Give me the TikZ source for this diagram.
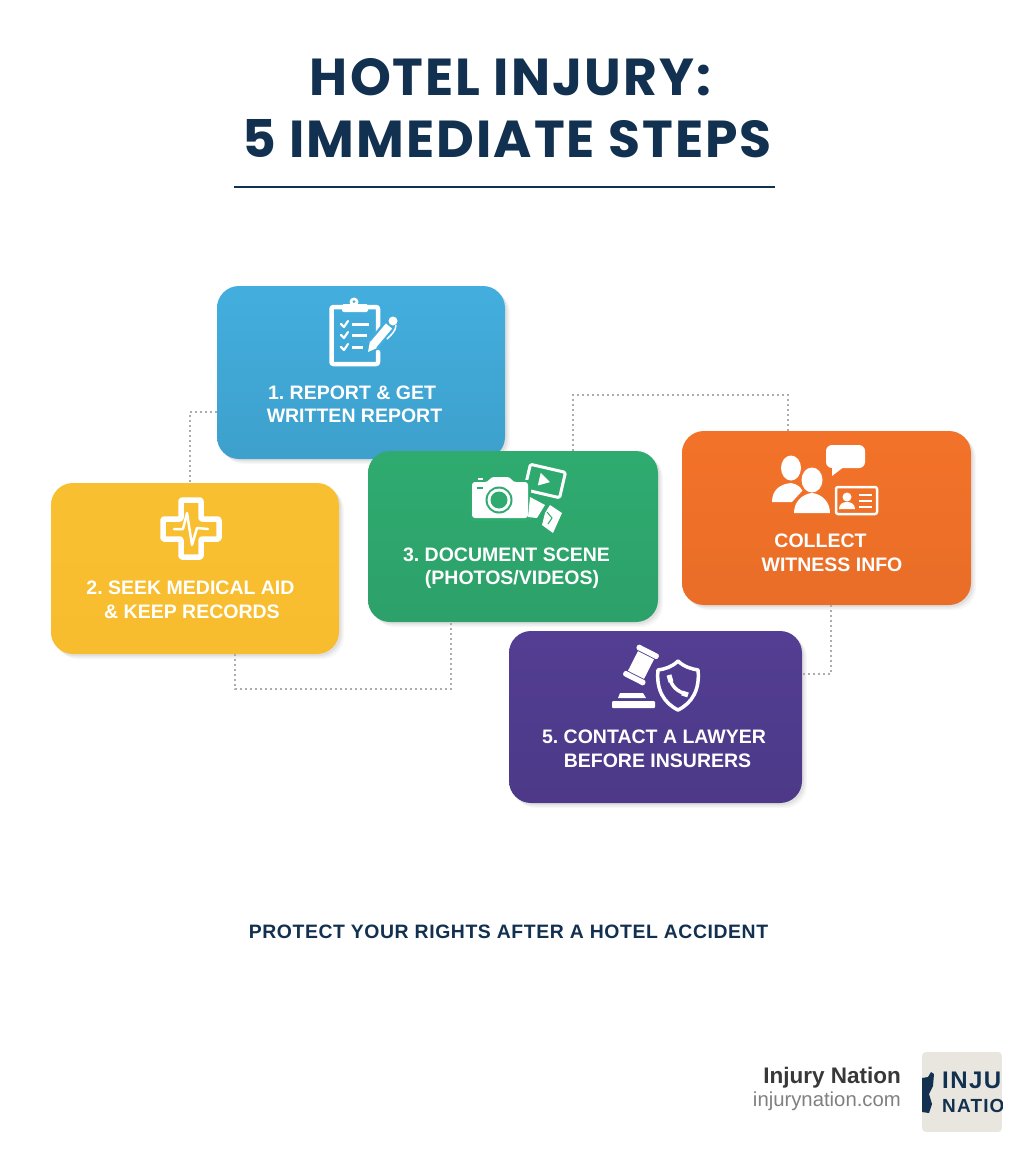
\documentclass[tikz,border=0pt]{standalone}
\usepackage{fontspec}
\setmainfont{Liberation Sans}
\newfontfamily\titlefont{Poppins}[LetterSpace=4]
\newfontfamily\tagfont{Liberation Sans}[LetterSpace=3]
\newfontfamily\logofont{Liberation Sans}[LetterSpace=6]
\usetikzlibrary{shadows}
\definecolor{navy}{HTML}{12304F}
\definecolor{bluebox}{HTML}{43AEDE}
\definecolor{yellowbox}{HTML}{F8C031}
\definecolor{greenbox}{HTML}{2FAB70}
\definecolor{orangebox}{HTML}{F37229}
\definecolor{purplebox}{HTML}{533E93}
\definecolor{logobox}{HTML}{E8E6DF}
\tikzset{
  card/.style={rectangle, rounded corners=22pt, inner sep=0pt, outer sep=0pt,
    drop shadow={shadow xshift=5pt, shadow yshift=-5pt, opacity=.03, fill=black},
    drop shadow={shadow xshift=3.5pt, shadow yshift=-3.5pt, opacity=.04, fill=black},
    drop shadow={shadow xshift=2pt, shadow yshift=-2pt, opacity=.05, fill=black}},
  line/.style={text=white, font=\frenchspacing\bfseries\fontsize{19.5}{24}\selectfont, inner sep=0pt},
  link/.style={draw=gray!65, line width=1.5pt, dash pattern=on 2pt off 3pt},
  icon/.style={draw=white, line width=3pt, line join=round, line cap=round}
}
\begin{document}
\begin{tikzpicture}[x=1pt, y=-1pt]
    \useasboundingbox [fill=white] (0,0) rectangle (1024,1154);
    % title
    \node(T1) at (510.5,77) [text=navy, font=\titlefont\bfseries\fontsize{52}{60}\selectfont] {HOTEL INJURY:};
    \node(T2) at (507,139) [text=navy, font=\titlefont\bfseries\fontsize{52}{60}\selectfont] {5 IMMEDIATE STEPS};
    \coordinate(TL) at (234,187);
    \coordinate(TR) at (775,187);
    \draw [navy, line width=2pt] (TL) -- (TR);
    % cards
    \node(R) at (361,372.5) [card, minimum width=288pt, minimum height=173pt, top color=bluebox, bottom color=bluebox!92!black] {};
    \node(M) at (195,568.5) [card, minimum width=288pt, minimum height=171pt, top color=yellowbox, bottom color=yellowbox!95!orange] {};
    \node(D) at (513,536.5) [card, minimum width=290pt, minimum height=171pt, top color=greenbox, bottom color=greenbox!94!black] {};
    \node(W) at (826.5,518) [card, minimum width=289pt, minimum height=174pt, top color=orangebox, bottom color=orangebox!96!black] {};
    \node(L) at (655.5,717) [card, minimum width=293pt, minimum height=172pt, top color=purplebox, bottom color=purplebox!92!black] {};
    % dotted links
    \draw [link] (R.west |- 0,412) -| (M.north -| 190,0);
    \draw [link] (M.south -| 235,0) |- (0,689 -| 451,0) -- (D.south -| 451,0);
    \draw [link] (D.north -| 573,0) |- (0,395 -| 788,0) -- (W.north -| 788,0);
    \draw [link] (W.south -| 831,0) |- (L.east |- 0,674);
    % card texts
    \node(R1) at (352,393) [line] {1. REPORT \& GET};
    \node(R2) at (354.5,416) [line] {WRITTEN REPORT};
    \node(M1) at (190.5,588) [line] {2. SEEK MEDICAL AID};
    \node(M2) at (192,612) [line] {\& KEEP RECORDS};
    \node(D1) at (506.5,555) [line] {3. DOCUMENT SCENE};
    \node(D2) at (512,579) [line] {(PHOTOS/VIDEOS)};
    \node(W1) at (820.5,541) [line] {COLLECT};
    \node(W2) at (832,565) [line] {WITNESS INFO};
    \node(L1) at (654,737) [line] {5. CONTACT A LAWYER};
    \node(L2) at (657.5,761) [line] {BEFORE INSURERS};
    % clipboard
    \draw [icon, line width=4.5pt, rounded corners=2pt] (378,340) -- (378,307) -- (331.5,307) -- (331.5,364) -- (378,364) -- (378,352);
    \fill [white, rounded corners=1.5pt] (342,304) rectangle (368,312);
    \fill [white] (354,302) circle (4.5pt);
    \fill [bluebox] (354,301.5) circle (1.5pt);
    \foreach \yy/\xx in {324/369, 335/367, 347/363} {
      \draw [icon, line width=3pt, line cap=butt] (352,\yy) -- (\xx,\yy);
      \draw [icon, line width=2.2pt] (341,\yy) -- (344,\yy+3) -- (348,\yy-3);
    }
    \draw [bluebox, line width=13pt] (373,345) -- (389,326);
    \draw [white, line width=8pt] (373,345) -- (389,326);
    \fill [white] (368,352) -- (370,341) -- (377,348) -- cycle;
    \fill [white] (393,321) circle (4.5pt);
    \draw [white, line width=1.5pt] (396,325) .. controls (396,331) and (391,335) .. (387,339);
    % medical cross
    \draw [icon, line width=5.5pt, rounded corners=1pt] (181,500) -- (201,500) -- (201,519) -- (219,519) -- (219,539) -- (201,539) -- (201,557) -- (181,557) -- (181,539) -- (163,539) -- (163,519) -- (181,519) -- cycle;
    \draw [icon, line width=2.5pt] (174,529) -- (183,529) -- (187,513) -- (192,545) -- (197,528) -- (208,529);
    % camera
    \begin{scope}[shift={(545,481)}, rotate=-13]
      \draw [icon, rounded corners=1.5pt] (-18,-13) rectangle (18,13);
      \fill [white] (-6,-7) -- (5,0) -- (-6,6) -- cycle;
    \end{scope}
    \fill [greenbox, rounded corners=3pt] (470,480) rectangle (531,521);
    \fill [white, rounded corners=3pt] (472,482) -- (488,482) -- (491,477) -- (510,477) -- (513,482) -- (528,482) -- (528,518) -- (472,518) -- cycle;
    \fill [white] (478,477.5) rectangle (483,480);
    \fill [greenbox] (499,500) circle (13.5pt);
    \fill [white] (499,500) circle (11.5pt);
    \fill [greenbox] (499,500) circle (8.5pt);
    \fill [greenbox] (477,487) rectangle (483,489);
    \fill [white] (530,497) -- (545,505) -- (537,518) -- (528,517) -- cycle;
    \fill [white] (550,505) -- (562,513) -- (553,533) -- (542,525) -- (545,513) -- cycle;
    \draw [greenbox, line width=1pt] (547,512) -- (552,518) -- (548,524);
    % witnesses
    \fill [white] (791,468) ellipse (10pt and 12.5pt);
    \fill [white] (772,502) .. controls (772,490) and (780,484) .. (791,483) .. controls (797,484) and (800,487) .. (803,490) -- (792,502) -- cycle;
    \fill [orangebox] (812,480) ellipse (13pt and 15.5pt);
    \fill [white] (812,480) ellipse (10.5pt and 12.5pt);
    \fill [white] (794,513) .. controls (794,502) and (802,494) .. (812,493) .. controls (822,494) and (830,502) .. (830,513) -- cycle;
    \fill [white, rounded corners=6pt] (826,445) rectangle (865,468);
    \fill [white] (832,465) -- (832,476) -- (845,466) -- cycle;
    \draw [icon, line width=2.5pt, rounded corners=2pt] (836,487) rectangle (877,514);
    \fill [white] (847,497) circle (4.5pt);
    \fill [white] (839,509) .. controls (839,504) and (843,502) .. (847,502) .. controls (851,502) and (855,504) .. (855,509) -- cycle;
    \foreach \yy in {495,501,507} {
      \draw [icon, line width=2pt, line cap=butt] (859,\yy) -- (872,\yy);
    }
    % gavel and shield
    \begin{scope}[shift={(641,665)}, rotate=-27]
      \fill [white] (-9,-11) rectangle (9,11);
      \fill [white, rounded corners=1.5pt] (-12,-17.5) rectangle (12,-12);
      \fill [white, rounded corners=1.5pt] (-12,12) rectangle (12,17.5);
    \end{scope}
    \fill [white] (620,693) -- (643,693) -- (646,698) -- (618,698) -- cycle;
    \fill [white, rounded corners=1pt] (612,701) rectangle (655,708);
    \draw [icon, line width=3.5pt] (678,661) .. controls (684,667) and (692,669) .. (698,670) .. controls (700,690) and (692,703) .. (678,710) .. controls (664,703) and (656,690) .. (658,670) .. controls (665,669) and (672,667) .. (678,661) -- cycle;
    \draw [icon, line width=3.5pt, line cap=butt] (670,678) .. controls (671,686) and (678,692) .. (686,694);
    \draw [icon, line width=5pt, line cap=butt] (669,675) -- (671,682);
    \draw [icon, line width=5pt, line cap=butt] (682,693) -- (688,695);
    % tagline
    \node(P) at (508.5,932) [text=navy, font=\tagfont\bfseries\fontsize{19.4}{23}\selectfont] {PROTECT YOUR RIGHTS AFTER A HOTEL ACCIDENT};
    % brand
    \node(B1) at (901,1078) [anchor=east, inner sep=0pt, text=black!78, font=\bfseries\fontsize{22.5}{26}\selectfont] {Injury Nation};
    \node(B2) at (901,1101) [anchor=east, inner sep=0pt, text=black!50, font=\fontsize{20.3}{24}\selectfont] {injurynation.com};
    \begin{scope}
      \clip [rounded corners=4pt] (922,1052) rectangle (1002,1132);
      \fill [logobox] (922,1052) rectangle (1002,1132);
      \node(B3) at (942,1080) [anchor=west, inner sep=0pt, text=navy, font=\logofont\bfseries\fontsize{24}{27}\selectfont] {INJU};
      \node(B4) at (942,1105.5) [anchor=west, inner sep=0pt, text=navy, font=\logofont\bfseries\fontsize{19}{22}\selectfont] {NATIO};
      \fill [navy] (922,1078) -- (928,1077) -- (931,1072) -- (934,1074) -- (933,1086) -- (929,1094) -- (932,1104) -- (929,1113) -- (922,1112) -- cycle;
    \end{scope}
  \end{tikzpicture}
\end{document}
